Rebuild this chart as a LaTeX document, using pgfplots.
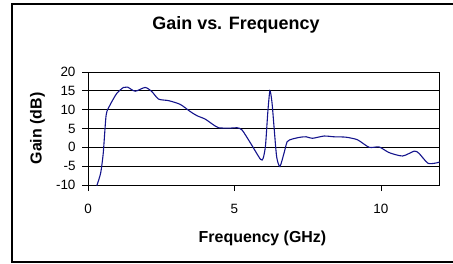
\documentclass[border=0pt]{standalone}
\usepackage{pgfplots}
\pgfplotsset{compat=1.18}
\usepackage{fontspec}
\setmainfont{Liberation Sans}
\definecolor{curve}{RGB}{20,20,140}
\begin{document}
\begin{tikzpicture}[x=1bp,y=1bp]
\useasboundingbox (0,0) rectangle (453,263);
\draw[line width=1.3bp] (460,259) -- (12,259) -- (12,1) -- (460,1);
\node[font=\fontsize{18}{20}\selectfont\bfseries] at (236,238) {Gain vs. Frequency};
\begin{axis}[
  at={(88bp,78bp)}, anchor=south west,
  scale only axis, width=351.5bp, height=113bp,
  xmin=0, xmax=12, ymin=-10, ymax=20,
  xtick={0,5,10}, ytick={-10,-5,0,5,10,15,20},
  xtick pos=bottom, ytick pos=left,
  tick align=outside, major tick length=6bp,
  tick style={black, line width=0.8bp},
  axis line style={line width=0.9bp},
  ymajorgrids, grid style={black, line width=0.7bp},
  x tick label style={font=\fontsize{13.5}{15}\selectfont, yshift=-10bp},
  y tick label style={font=\fontsize{13.5}{15}\selectfont, xshift=-3bp},
  /pgf/number format/assume math mode=true,
  xlabel={Frequency (GHz)}, ylabel={Gain (dB)},
  every axis x label/.style={at={(axis description cs:0.4964,-0.469)}, anchor=center, font=\fontsize{16}{18}\selectfont\bfseries},
  every axis y label/.style={at={(axis description cs:-0.1437,0.5)}, rotate=90, anchor=center, font=\fontsize{16}{18}\selectfont\bfseries},
  clip=true,
]
\addplot[curve, line width=1.1bp, smooth, tension=0.4] coordinates {
(0.30,-10.2) (0.43,-6.9) (0.52,-1.6) (0.62,8.6) (0.75,11.2) (0.98,14.3)
(1.21,15.9) (1.35,16.0) (1.61,14.9) (1.95,15.9) (2.18,14.8) (2.41,12.8)
(2.75,12.4) (3.15,11.4) (3.49,9.5) (3.72,8.4) (4.0,7.5) (4.24,6.2)
(4.46,5.2) (4.86,5.1) (5.09,5.2) (5.26,4.6) (5.55,1.1) (5.89,-3.2)
(5.98,-2.9) (6.06,0.5) (6.14,9.5) (6.21,15.0) (6.28,12.0) (6.35,5.5)
(6.44,-2.5) (6.55,-5.1) (6.69,-1.6) (6.8,1.5) (6.97,2.2) (7.26,2.7)
(7.45,2.8) (7.66,2.4) (8.06,3.0) (8.4,2.8) (8.8,2.7) (9.2,2.0)
(9.6,0.0) (9.94,0.1) (10.28,-1.4) (10.74,-2.3) (11.14,-1.0) (11.3,-1.6)
(11.6,-4.2) (11.85,-4.2) (12.05,-3.8)
};
\end{axis}
\end{tikzpicture}
\end{document}
